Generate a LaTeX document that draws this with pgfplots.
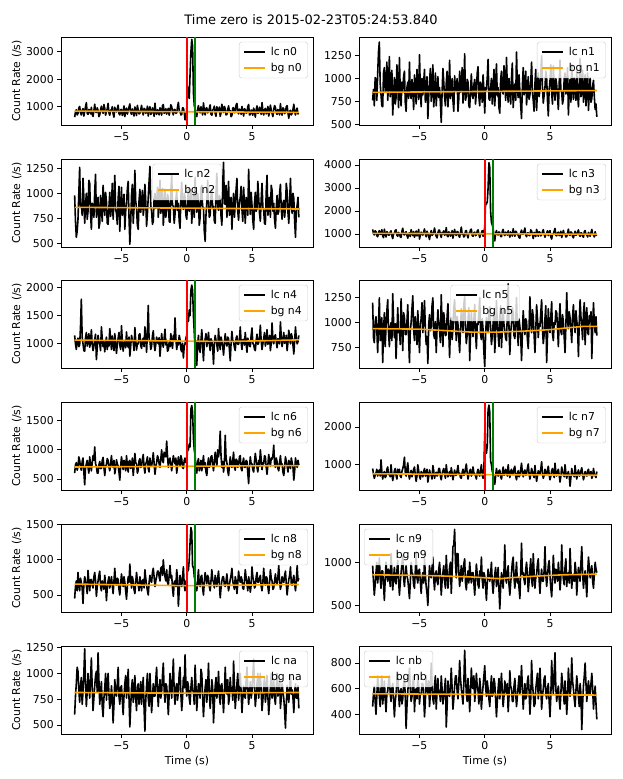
\documentclass[border=0pt]{standalone}
\usepackage{fontspec}
\setmainfont{DejaVu Sans}
\usepackage{pgfplots}
\pgfplotsset{compat=1.18}
\definecolor{bgorange}{HTML}{FFA500}
\definecolor{mplgreen}{HTML}{008000}
\definecolor{mplred}{HTML}{FF0000}
\newcommand{\fs}{\fontsize{10.85bp}{13bp}\selectfont}
\pgfplotsset{
  panel/.style={
    scale only axis, width=252bp, height=88bp, anchor=north west,
    xmin=-9.62, xmax=9.66,
    xtick={-5,0,5}, xticklabels={−5,0,5},
    tick align=outside, xtick pos=left, ytick pos=left,
    major tick length=3.8bp,
    every tick/.style={black, line width=0.85bp},
    axis line style={line width=0.85bp},
    ticklabel style={font=\fs},
    label style={font=\fs},
    /pgf/number format/1000 sep={},
    /pgf/number format/assume math mode=true,
    legend style={font=\fs, draw=black!20, rounded corners=2.5bp, fill=white, fill opacity=0.8, text opacity=1, draw opacity=1, inner xsep=4bp, inner ysep=3bp, row sep=2.5bp, legend cell align=left, /tikz/every odd column/.append style={column sep=3bp}},
    legend image code/.code={\draw[##1, line width=1.6bp] (0bp,0bp) -- (21bp,0bp);},
  },
  lur/.style={legend style={at={(0.98,0.945)}, anchor=north east}},
  luc/.style={legend style={at={(0.5,0.945)}, anchor=north}},
  lul/.style={legend style={at={(0.02,0.945)}, anchor=north west}},
  yl/.style={ylabel={Count Rate (/s)}, ylabel style={at={(axis description cs:-0.176,0.5)}, anchor=center}},
  xl/.style={xlabel={Time (s)}, xlabel style={at={(axis description cs:0.5,-0.305)}, anchor=center}},
}
\newcommand{\lc}[1]{\addplot[black, line width=1.6bp, line join=round] table[x expr=\coordindex*0.064-8.576, y index=0, header=false, row sep=\\]{#1};}
\newcommand{\vl}[2]{\addplot[mplred, line width=1.6bp, forget plot] coordinates {(0,#1) (0,#2)};
\addplot[mplgreen, line width=1.6bp, forget plot] coordinates {(0.64,#1) (0.64,#2)};}
\begin{document}
\begin{tikzpicture}
\path[use as bounding box] (0bp,0bp) rectangle (623bp,-779bp);
\node[font=\fontsize{13bp}{15bp}\selectfont] at (311bp,-20bp) {Time zero is 2015-02-23T05:24:53.840};

% n0
\begin{axis}[panel, lur, yl, at={(61bp,-37bp)}, ymin=335, ymax=3535, ytick={1000,2000,3000}]
\lc{620\\810\\890\\700\\760\\950\\1010\\780\\700\\870\\930\\660\\830\\1000\\1150\\760\\720\\900\\880\\740\\
980\\720\\650\\860\\1090\\810\\790\\960\\870\\640\\700\\900\\1020\\830\\760\\1080\\940\\690\\840\\920\\
1120\\770\\690\\880\\860\\1000\\740\\620\\980\\850\\810\\930\\1060\\750\\700\\890\\900\\680\\780\\1030\\
640\\880\\950\\730\\850\\990\\1100\\800\\720\\920\\830\\660\\990\\850\\680\\1050\\880\\740\\760\\900\\
1050\\810\\700\\940\\910\\760\\820\\1020\\660\\880\\1000\\720\\770\\960\\870\\650\\1130\\830\\720\\890\\
840\\700\\960\\880\\690\\1040\\1080\\760\\800\\930\\730\\860\\940\\690\\860\\1070\\1010\\800\\700\\900\\
890\\760\\780\\990\\1160\\840\\830\\700\\720\\960\\950\\800\\520\\640\\900\\1750\\1400\\1300\\2200\\3000\\
3450\\3200\\1500\\1050\\900\\760\\640\\900\\1040\\820\\780\\1000\\880\\700\\1140\\870\\700\\930\\960\\780\\
820\\940\\1070\\730\\690\\880\\910\\1020\\760\\650\\1000\\840\\850\\990\\650\\780\\1090\\900\\790\\1010\\
930\\700\\720\\890\\1030\\820\\860\\640\\680\\950\\970\\780\\800\\1060\\1120\\830\\740\\910\\880\\720\\
1010\\840\\660\\920\\900\\770\\780\\1000\\1080\\700\\710\\880\\860\\690\\950\\820\\620\\900\\1030\\760\\
790\\980\\880\\720\\1150\\850\\700\\890\\940\\740\\820\\1010\\660\\800\\1060\\880\\760\\640\\900\\1040\\
980\\790\\720\\900\\850\\700\\1110\\820\\690\\960\\920\\750\\800\\1000\\1040\\780\\580\\830\\870\\700\\
760\\900\\1090\\810\\700\\880\\950\\740\\760\\}
\addlegendentry{lc n0}
\addplot[bgorange, line width=1.6bp] coordinates {(-8.576,840) (8.576,795)};
\addlegendentry{bg n0}
\vl{335}{3535}
\end{axis}

% n1
\begin{axis}[panel, lur, at={(359bp,-37bp)}, ymin=490, ymax=1455, ytick={500,750,1000,1250}]
\lc{760\\880\\700\\1010\\980\\760\\1050\\1290\\1400\\950\\820\\700\\690\\1060\\1120\\850\\900\\1180\\760\\940\\
1240\\800\\880\\1090\\600\\820\\1010\\720\\790\\1150\\930\\680\\1230\\860\\700\\960\\850\\1020\\1080\\740\\
640\\900\\960\\780\\1180\\830\\780\\990\\870\\660\\1040\\900\\720\\1100\\910\\770\\1260\\880\\690\\1000\\
820\\960\\1100\\740\\880\\1020\\560\\800\\970\\1110\\750\\900\\1150\\690\\830\\1060\\700\\880\\1020\\790\\
900\\730\\520\\840\\1110\\960\\800\\700\\950\\1080\\690\\860\\1200\\780\\860\\1000\\760\\640\\1030\\880\\
870\\1000\\640\\780\\1080\\850\\920\\1120\\730\\890\\1270\\760\\810\\990\\960\\700\\680\\870\\1050\\820\\
780\\930\\990\\720\\860\\1060\\1130\\800\\700\\960\\920\\740\\1040\\870\\620\\900\\880\\1010\\1210\\780\\
760\\890\\1000\\720\\850\\1100\\700\\940\\1160\\810\\900\\680\\620\\990\\1080\\860\\830\\1140\\970\\760\\
1230\\900\\740\\1000\\880\\720\\1010\\1170\\680\\850\\940\\760\\1290\\900\\790\\1040\\860\\700\\560\\920\\
1120\\820\\900\\1080\\710\\880\\1020\\770\\820\\960\\1180\\850\\760\\640\\940\\1100\\650\\870\\1060\\800\\
880\\1030\\1250\\900\\730\\820\\900\\1080\\1010\\760\\590\\880\\970\\1150\\840\\720\\1140\\910\\760\\1000\\
930\\800\\660\\940\\1200\\870\\850\\720\\780\\1000\\1060\\830\\880\\1120\\600\\860\\990\\740\\1150\\900\\
770\\1010\\900\\760\\1080\\840\\690\\930\\1220\\800\\860\\1090\\740\\880\\1040\\700\\920\\1060\\650\\850\\
1010\\740\\780\\920\\980\\800\\660\\720\\580\\}
\addlegendentry{lc n1}
\addplot[bgorange, line width=1.6bp] coordinates {(-8.576,848) (8.576,868)};
\addlegendentry{bg n1}
\end{axis}

% n2
\begin{axis}[panel, luc, yl, at={(61bp,-159bp)}, ymin=463, ymax=1343, ytick={500,750,1000,1250}]
\lc{980\\720\\560\\620\\740\\1000\\1260\\860\\900\\780\\1150\\960\\700\\880\\1000\\740\\820\\1130\\1100\\800\\
640\\900\\880\\760\\1020\\1190\\760\\870\\960\\650\\700\\980\\850\\720\\1080\\930\\780\\1010\\920\\700\\
690\\860\\1010\\770\\870\\1100\\740\\930\\1180\\840\\800\\690\\950\\1070\\620\\880\\1060\\780\\830\\990\\
640\\820\\900\\1040\\1120\\760\\490\\710\\980\\1090\\700\\850\\1230\\920\\850\\680\\640\\930\\1040\\810\\
910\\1030\\780\\860\\1090\\920\\670\\800\\960\\1120\\1270\\880\\820\\690\\720\\940\\1000\\850\\880\\1060\\
760\\920\\1130\\800\\900\\1050\\680\\840\\1040\\760\\830\\990\\950\\720\\710\\1010\\1180\\880\\870\\700\\
790\\940\\1020\\830\\900\\720\\650\\960\\1110\\870\\840\\1000\\960\\780\\740\\900\\1050\\820\\880\\1040\\
700\\870\\990\\760\\1160\\930\\810\\1000\\920\\680\\760\\1050\\1080\\850\\860\\620\\520\\780\\910\\1130\\
900\\760\\780\\970\\1040\\850\\870\\720\\700\\1010\\1200\\860\\830\\980\\950\\770\\680\\1090\\1310\\900\\
890\\1080\\760\\900\\1120\\780\\820\\960\\640\\860\\1000\\760\\900\\1040\\1150\\820\\730\\900\\960\\1070\\
840\\720\\1060\\880\\700\\960\\920\\780\\1240\\940\\790\\1010\\880\\730\\640\\900\\1010\\820\\850\\1120\\
960\\800\\720\\940\\1100\\860\\830\\700\\690\\1010\\1180\\780\\870\\960\\760\\1080\\1030\\820\\900\\740\\
650\\860\\980\\790\\820\\1000\\1090\\840\\740\\900\\930\\760\\860\\1100\\1020\\810\\700\\920\\1150\\880\\
800\\1000\\950\\720\\560\\830\\880\\960\\760\\}
\addlegendentry{lc n2}
\addplot[bgorange, line width=1.6bp] coordinates {(-8.576,860) (8.576,843)};
\addlegendentry{bg n2}
\end{axis}

% n3
\begin{axis}[panel, lur, at={(359bp,-159bp)}, ymin=435, ymax=4260, ytick={1000,2000,3000,4000}]
\lc{1200\\1020\\960\\1140\\1100\\930\\880\\1050\\1150\\980\\1000\\1190\\920\\840\\1210\\1010\\870\\1100\\1060\\950\\
960\\1080\\1140\\920\\800\\1010\\1030\\1160\\1180\\950\\900\\1070\\1000\\880\\850\\1120\\1250\\990\\960\\1050\\
1100\\940\\820\\1010\\1050\\890\\1190\\1040\\930\\1110\\860\\980\\1130\\920\\1000\\1200\\780\\950\\1080\\1000\\
950\\1090\\1220\\980\\880\\1120\\1030\\900\\760\\1000\\1150\\940\\980\\1090\\1260\\1010\\900\\830\\1050\\1170\\
1170\\960\\850\\1070\\1010\\1140\\940\\1020\\1280\\930\\880\\1090\\1060\\910\\990\\1150\\820\\1030\\1200\\980\\
940\\1110\\1090\\920\\860\\1060\\1300\\990\\1000\\870\\910\\1130\\1150\\960\\830\\1040\\1040\\1180\\1210\\930\\
900\\1050\\1080\\930\\960\\1120\\1180\\1000\\850\\990\\1040\\1150\\900\\1060\\1300\\2350\\2300\\2400\\3000\\4100\\
3900\\2000\\1500\\1400\\1250\\900\\700\\1020\\1150\\980\\960\\1090\\1060\\900\\880\\1120\\1200\\1000\\930\\1080\\
1050\\950\\1140\\1010\\860\\1090\\1000\\910\\1230\\1040\\900\\1120\\1080\\970\\960\\850\\820\\1060\\1170\\990\\
1000\\1120\\1260\\960\\880\\1040\\1050\\930\\940\\1180\\1130\\980\\800\\1070\\1010\\890\\1200\\1050\\900\\1100\\
1070\\920\\960\\1100\\1190\\1010\\860\\970\\1030\\1140\\930\\1060\\1150\\880\\780\\990\\1000\\1130\\1240\\950\\
920\\1040\\1080\\930\\970\\1120\\850\\980\\1160\\1000\\1010\\870\\890\\1060\\1210\\960\\940\\1090\\1060\\900\\
830\\1000\\1120\\940\\990\\1080\\1180\\960\\900\\1050\\1040\\910\\860\\1100\\1150\\980\\970\\870\\1070\\1010\\
900\\1050\\1200\\990\\960\\870\\1100\\940\\980\\}
\addlegendentry{lc n3}
\addplot[bgorange, line width=1.6bp] coordinates {(-8.576,1030) (8.576,990)};
\addlegendentry{bg n3}
\vl{435}{4260}
\end{axis}

% n4
\begin{axis}[panel, lur, yl, at={(61bp,-280bp)}, ymin=572, ymax=2130, ytick={1000,1500,2000}]
\lc{1150\\1000\\900\\1060\\1100\\950\\980\\1300\\1790\\1120\\1000\\880\\870\\1100\\1200\\960\\1060\\1180\\940\\1020\\
1250\\1000\\880\\960\\1080\\1170\\720\\930\\1150\\1040\\1000\\880\\1300\\1090\\950\\1040\\860\\1010\\1120\\900\\
1040\\960\\1270\\1080\\900\\1140\\1010\\880\\1180\\1020\\830\\990\\1100\\1200\\980\\900\\1320\\1050\\870\\1010\\
1060\\930\\1210\\1000\\940\\1120\\780\\960\\1150\\1070\\1030\\880\\1290\\1050\\890\\1010\\1000\\1160\\1180\\970\\
920\\1060\\1100\\950\\1300\\1120\\850\\1200\\1680\\1080\\1050\\900\\960\\1140\\1230\\1000\\880\\990\\1120\\1040\\
1000\\1110\\780\\960\\1180\\1020\\940\\1100\\1260\\980\\1060\\870\\890\\1030\\950\\1180\\1000\\920\\1150\\1050\\
1460\\1100\\900\\1020\\980\\1150\\1080\\900\\860\\1010\\750\\960\\1000\\1100\\1150\\1450\\1400\\1600\\1500\\1950\\
2040\\1950\\1500\\1200\\900\\1050\\620\\980\\1150\\900\\850\\1060\\1250\\960\\700\\1020\\1080\\1180\\950\\1060\\
1200\\1000\\880\\1090\\1050\\940\\640\\1010\\1150\\1060\\980\\870\\1270\\1030\\900\\1120\\1050\\960\\800\\1000\\
1180\\1020\\960\\1120\\1090\\900\\700\\1010\\1220\\1060\\1030\\940\\880\\1100\\1140\\990\\990\\1080\\1300\\1030\\
900\\1070\\1080\\980\\1200\\1010\\850\\1100\\1050\\960\\950\\1150\\1280\\1000\\1000\\900\\880\\1060\\1170\\990\\
1020\\1120\\1330\\1050\\900\\1000\\1100\\1200\\960\\1040\\1250\\990\\1060\\1150\\880\\1010\\1370\\1080\\1000\\1130\\
1160\\1040\\930\\1090\\1080\\1000\\1390\\1120\\950\\1060\\1200\\1010\\1040\\1150\\880\\1030\\1240\\1100\\1000\\1180\\
1120\\980\\820\\1060\\1300\\1090\\1000\\1040\\1150\\}
\addlegendentry{lc n4}
\addplot[bgorange, line width=1.6bp] coordinates {(-8.576,1065) (-4,1058) (0,1048) (3,1042) (6,1055) (8.576,1070)};
\addlegendentry{bg n4}
\vl{572}{2130}
\end{axis}

% n5
\begin{axis}[panel, luc, at={(359bp,-280bp)}, ymin=545, ymax=1428, ytick={750,1000,1250}]
\lc{1200\\850\\800\\1010\\1060\\930\\700\\980\\1250\\820\\880\\1050\\600\\900\\1100\\760\\950\\1120\\1230\\900\\
760\\960\\1000\\820\\1290\\1020\\850\\990\\640\\880\\1150\\900\\930\\780\\1240\\970\\720\\1100\\1050\\880\\
880\\1010\\1180\\840\\600\\920\\1000\\1140\\1270\\930\\820\\1060\\960\\780\\1120\\900\\700\\980\\1040\\1200\\
900\\1050\\1220\\940\\780\\860\\590\\980\\1080\\920\\960\\1170\\1250\\880\\840\\1010\\700\\940\\1130\\1000\\
920\\800\\1280\\990\\760\\1100\\1010\\870\\880\\1060\\1190\\920\\650\\960\\1050\\830\\940\\1140\\1230\\1000\\
820\\1060\\980\\840\\700\\930\\1140\\1000\\900\\1180\\1260\\950\\790\\880\\1020\\1150\\620\\870\\1100\\960\\
860\\1020\\1180\\900\\740\\990\\980\\1090\\1250\\880\\830\\1040\\930\\700\\560\\870\\1050\\970\\900\\1110\\
1160\\940\\780\\860\\990\\1100\\700\\890\\1220\\1010\\880\\760\\1040\\1170\\750\\930\\1130\\980\\920\\840\\
820\\1080\\1390\\950\\680\\900\\990\\1150\\1090\\870\\840\\1010\\1250\\930\\770\\1040\\960\\860\\620\\890\\
1120\\970\\880\\1040\\1010\\830\\740\\950\\1260\\1000\\900\\1130\\1060\\880\\700\\920\\1180\\1050\\850\\990\\
960\\1100\\1230\\930\\790\\880\\1040\\1170\\600\\860\\1140\\950\\900\\1060\\1210\\890\\820\\1000\\980\\1120\\
1100\\960\\760\\1030\\1190\\910\\880\\1080\\1010\\850\\700\\970\\1300\\1020\\940\\1110\\1050\\930\\800\\1060\\
1180\\1010\\900\\1120\\1020\\940\\660\\1000\\1230\\1060\\960\\830\\1090\\1200\\780\\1010\\1150\\900\\880\\1070\\
1010\\1110\\640\\950\\1200\\990\\900\\1060\\870\\}
\addlegendentry{lc n5}
\addplot[bgorange, line width=1.6bp] coordinates {(-8.576,940) (-5,935) (-3,920) (-1,905) (1,905) (3,915) (5,930) (6.5,950) (7.5,962) (8.576,963)};
\addlegendentry{bg n5}
\end{axis}

% n6
\begin{axis}[panel, lur, yl, at={(61bp,-402bp)}, ymin=311, ymax=1821, ytick={500,1000,1500}]
\lc{600\\740\\780\\650\\700\\880\\820\\700\\650\\800\\860\\620\\400\\690\\760\\820\\700\\600\\880\\740\\
640\\780\\900\\820\\1050\\760\\720\\600\\600\\740\\800\\680\\680\\820\\870\\700\\560\\720\\750\\850\\
820\\700\\640\\760\\900\\740\\700\\820\\590\\680\\830\\760\\720\\620\\480\\720\\880\\770\\660\\820\\
770\\640\\900\\730\\620\\800\\820\\680\\700\\860\\560\\720\\940\\780\\760\\600\\650\\810\\850\\700\\
720\\840\\920\\700\\600\\760\\800\\880\\680\\620\\860\\740\\720\\810\\950\\770\\580\\700\\780\\900\\
860\\760\\700\\840\\1000\\820\\780\\960\\920\\880\\1150\\900\\700\\820\\860\\760\\640\\780\\900\\820\\
760\\860\\600\\720\\880\\780\\720\\900\\840\\700\\680\\820\\860\\780\\800\\1000\\1000\\1100\\1050\\1700\\
1760\\1650\\1200\\1000\\900\\700\\600\\780\\850\\640\\700\\820\\640\\760\\900\\700\\780\\620\\560\\740\\
860\\700\\740\\880\\900\\760\\640\\800\\960\\820\\720\\1000\\880\\1000\\1320\\900\\700\\800\\620\\760\\
1250\\860\\780\\640\\560\\720\\880\\760\\700\\820\\960\\700\\650\\840\\820\\700\\740\\880\\900\\680\\
640\\780\\860\\700\\700\\820\\800\\600\\420\\720\\880\\760\\760\\660\\620\\800\\940\\820\\700\\620\\
820\\720\\1000\\840\\660\\780\\760\\900\\880\\700\\580\\740\\920\\800\\720\\860\\840\\900\\1080\\760\\
700\\860\\800\\680\\640\\780\\900\\740\\760\\620\\560\\700\\880\\800\\720\\620\\820\\760\\680\\860\\
780\\700\\480\\640\\860\\760\\700\\820\\740\\}
\addlegendentry{lc n6}
\addplot[bgorange, line width=1.6bp] coordinates {(-8.576,706) (8.576,730)};
\addlegendentry{bg n6}
\vl{311}{1821}
\end{axis}

% n7
\begin{axis}[panel, lur, at={(359bp,-402bp)}, ymin=330, ymax=2663, ytick={1000,2000}]
\lc{900\\760\\640\\720\\780\\880\\700\\820\\860\\700\\1130\\820\\620\\760\\820\\660\\700\\880\\940\\740\\
760\\680\\1000\\760\\580\\700\\840\\900\\720\\620\\880\\760\\880\\700\\660\\820\\900\\1000\\1200\\800\\
700\\900\\1050\\760\\620\\740\\850\\680\\760\\880\\940\\720\\560\\700\\1000\\840\\700\\620\\820\\760\\
680\\820\\900\\700\\760\\880\\540\\680\\860\\760\\720\\620\\980\\840\\640\\760\\800\\700\\740\\900\\
900\\700\\600\\760\\840\\900\\760\\640\\1000\\800\\680\\760\\820\\700\\920\\780\\600\\740\\860\\720\\
720\\840\\980\\760\\780\\660\\640\\800\\880\\720\\760\\900\\1020\\780\\620\\740\\840\\880\\700\\760\\
940\\780\\760\\700\\620\\800\\880\\740\\700\\860\\1000\\720\\640\\900\\1850\\1300\\1300\\1500\\2450\\2580\\
2400\\1100\\1000\\820\\760\\620\\480\\700\\900\\760\\700\\840\\860\\680\\620\\780\\940\\720\\760\\880\\
820\\700\\1000\\780\\660\\820\\880\\740\\740\\900\\960\\700\\600\\760\\840\\680\\720\\880\\1040\\780\\
680\\820\\860\\720\\760\\900\\1020\\760\\620\\740\\900\\820\\720\\660\\980\\760\\560\\700\\840\\780\\
760\\880\\1080\\760\\640\\720\\880\\780\\720\\860\\960\\740\\600\\700\\840\\900\\780\\660\\1040\\800\\
700\\820\\880\\720\\540\\700\\940\\820\\760\\680\\1000\\780\\640\\760\\820\\700\\430\\660\\900\\760\\
740\\680\\980\\760\\620\\780\\860\\700\\720\\840\\920\\760\\600\\700\\820\\740\\700\\840\\880\\720\\
760\\820\\640\\700\\900\\760\\700\\660\\820\\}
\addlegendentry{lc n7}
\addplot[bgorange, line width=1.6bp] coordinates {(-8.576,760) (8.576,720)};
\addlegendentry{bg n7}
\vl{330}{2663}
\end{axis}

% n8
\begin{axis}[panel, lur, yl, at={(61bp,-524bp)}, ymin=258, ymax=1510, ytick={500,1000,1500}]
\lc{450\\620\\700\\560\\820\\660\\560\\740\\680\\600\\380\\640\\760\\700\\640\\520\\850\\680\\560\\720\\
720\\640\\600\\760\\820\\700\\480\\620\\700\\780\\840\\620\\560\\700\\660\\580\\780\\660\\420\\600\\
700\\760\\600\\680\\760\\640\\520\\700\\880\\660\\640\\740\\720\\580\\500\\660\\800\\700\\620\\760\\
680\\560\\440\\620\\760\\680\\940\\720\\600\\760\\700\\580\\520\\680\\820\\700\\640\\560\\760\\680\\
560\\700\\720\\600\\860\\740\\640\\560\\500\\680\\780\\700\\680\\820\\880\\760\\620\\700\\760\\840\\
840\\760\\700\\880\\900\\780\\1000\\840\\760\\700\\860\\680\\640\\780\\920\\740\\780\\600\\480\\680\\
700\\620\\860\\740\\340\\560\\780\\680\\620\\760\\900\\640\\560\\700\\700\\850\\850\\1000\\1250\\1460\\
1400\\900\\900\\760\\700\\600\\560\\700\\860\\640\\620\\760\\780\\600\\500\\680\\820\\740\\660\\780\\
740\\620\\560\\700\\860\\720\\680\\600\\780\\700\\620\\740\\840\\660\\460\\600\\700\\760\\760\\640\\
620\\700\\800\\660\\560\\640\\720\\780\\880\\700\\640\\580\\760\\700\\520\\660\\840\\720\\680\\760\\
720\\600\\580\\700\\860\\740\\660\\560\\760\\680\\540\\640\\900\\760\\700\\600\\620\\760\\820\\680\\
680\\740\\780\\620\\560\\680\\880\\700\\640\\760\\740\\620\\520\\660\\860\\740\\700\\580\\600\\700\\
800\\680\\660\\760\\920\\700\\580\\640\\760\\700\\680\\780\\840\\660\\500\\620\\720\\780\\900\\660\\
640\\720\\780\\660\\560\\700\\920\\700\\740\\}
\addlegendentry{lc n8}
\addplot[bgorange, line width=1.6bp] coordinates {(-8.576,655) (0,632) (8.576,650)};
\addlegendentry{bg n8}
\vl{258}{1510}
\end{axis}

% n9
\begin{axis}[panel, lul, at={(359bp,-524bp)}, ymin=425, ymax=1442, ytick={500,1000}]
\lc{960\\780\\620\\740\\880\\1000\\760\\880\\1050\\820\\700\\900\\900\\740\\560\\800\\1000\\860\\780\\920\\
860\\720\\1100\\880\\680\\820\\940\\780\\750\\900\\1020\\800\\620\\760\\880\\980\\1080\\820\\720\\860\\
960\\840\\800\\700\\580\\760\\1000\\880\\860\\740\\700\\900\\1120\\820\\760\\900\\920\\780\\640\\800\\
880\\760\\1040\\860\\720\\640\\500\\780\\960\\840\\820\\940\\1060\\800\\680\\860\\900\\780\\740\\920\\
1000\\840\\620\\780\\880\\960\\780\\700\\1080\\880\\700\\820\\940\\1000\\640\\900\\1180\\1200\\1380\\1000\\
820\\1100\\1100\\880\\720\\840\\960\\780\\860\\980\\1040\\760\\680\\820\\900\\760\\1000\\860\\760\\880\\
880\\760\\620\\800\\980\\860\\740\\700\\900\\820\\1060\\800\\700\\880\\840\\720\\560\\760\\920\\840\\
780\\860\\1000\\760\\640\\780\\860\\940\\720\\800\\940\\680\\460\\700\\880\\820\\700\\900\\1200\\820\\
760\\880\\960\\740\\620\\760\\880\\1000\\1060\\820\\700\\860\\1000\\760\\820\\700\\580\\900\\1220\\860\\
880\\800\\740\\920\\1000\\860\\660\\780\\920\\1040\\800\\720\\1100\\880\\700\\820\\860\\980\\1040\\800\\
640\\820\\920\\780\\780\\900\\1180\\860\\720\\840\\960\\1020\\840\\700\\600\\800\\1080\\880\\760\\920\\
900\\780\\1000\\860\\680\\820\\1200\\920\\800\\740\\940\\1040\\720\\860\\880\\760\\1160\\900\\700\\840\\
860\\780\\1000\\900\\620\\800\\940\\860\\780\\1000\\1180\\880\\700\\820\\900\\760\\600\\880\\1060\\940\\
820\\900\\960\\780\\700\\860\\1000\\920\\880\\}
\addlegendentry{lc n9}
\addplot[bgorange, line width=1.6bp] coordinates {(-8.576,855) (-4,845) (-1,830) (1.2,810) (2,822) (4,840) (6,855) (8.576,862)};
\addlegendentry{bg n9}
\end{axis}

% na
\begin{axis}[panel, lur, yl, xl, at={(61bp,-646bp)}, ymin=412, ymax=1266, ytick={500,750,1000,1250}]
\lc{600\\780\\900\\1060\\1020\\840\\720\\880\\960\\700\\820\\1000\\1240\\900\\680\\820\\1000\\880\\760\\940\\
1150\\860\\640\\760\\880\\980\\1020\\820\\1200\\940\\700\\820\\920\\680\\580\\760\\860\\1000\\740\\880\\
1000\\800\\660\\720\\880\\760\\520\\700\\940\\820\\780\\900\\1060\\780\\700\\860\\880\\740\\600\\780\\
900\\980\\760\\880\\1040\\760\\480\\680\\860\\940\\720\\800\\980\\760\\640\\860\\900\\700\\800\\920\\
700\\840\\960\\660\\440\\740\\880\\1000\\760\\680\\1000\\820\\620\\760\\900\\780\\780\\940\\1060\\820\\
680\\860\\940\\760\\820\\980\\1100\\840\\720\\900\\880\\760\\600\\800\\1000\\880\\760\\940\\1140\\820\\
700\\860\\900\\740\\820\\1000\\1060\\800\\640\\760\\960\\860\\1180\\900\\780\\920\\880\\760\\700\\860\\
960\\840\\820\\700\\1080\\880\\640\\780\\900\\820\\760\\1040\\1000\\780\\580\\740\\860\\940\\720\\860\\
1100\\820\\660\\780\\940\\860\\520\\700\\880\\960\\760\\840\\1020\\780\\700\\880\\900\\760\\620\\800\\
1060\\860\\800\\940\\700\\760\\960\\820\\860\\740\\1120\\880\\660\\780\\900\\1000\\740\\860\\1000\\820\\
620\\760\\880\\780\\760\\940\\1060\\840\\700\\820\\920\\760\\820\\980\\1140\\860\\680\\780\\900\\1000\\
760\\880\\1000\\820\\640\\740\\880\\960\\720\\800\\980\\780\\600\\720\\860\\1000\\760\\820\\940\\760\\
700\\860\\1000\\780\\820\\940\\660\\760\\900\\820\\760\\640\\470\\700\\880\\800\\720\\860\\980\\800\\
840\\760\\620\\820\\900\\760\\760\\880\\660\\}
\addlegendentry{lc na}
\addplot[bgorange, line width=1.6bp] coordinates {(-8.576,815) (0,808) (8.576,815)};
\addlegendentry{bg na}
\end{axis}

% nb
\begin{axis}[panel, lul, xl, at={(359bp,-646bp)}, ymin=246, ymax=933, ytick={400,600,800}]
\lc{460\\560\\620\\500\\400\\540\\700\\620\\540\\460\\600\\700\\480\\560\\660\\520\\420\\560\\580\\660\\
700\\560\\500\\600\\640\\520\\380\\500\\560\\660\\720\\560\\460\\580\\600\\480\\520\\640\\680\\540\\
290\\460\\580\\660\\760\\600\\500\\540\\640\\700\\420\\560\\600\\520\\700\\620\\480\\560\\560\\640\\
640\\540\\380\\500\\700\\600\\560\\660\\460\\560\\800\\620\\520\\480\\620\\700\\440\\580\\680\\560\\
580\\500\\700\\600\\480\\540\\600\\680\\300\\460\\660\\560\\540\\620\\760\\600\\440\\520\\620\\700\\
700\\580\\520\\640\\820\\680\\600\\540\\480\\640\\900\\700\\560\\500\\680\\580\\420\\560\\760\\620\\
600\\700\\500\\580\\720\\620\\580\\480\\680\\600\\440\\540\\620\\700\\780\\620\\540\\660\\600\\520\\
460\\600\\700\\540\\560\\680\\640\\520\\380\\500\\600\\680\\520\\600\\720\\580\\460\\540\\660\\600\\
560\\640\\420\\540\\740\\620\\600\\500\\500\\620\\680\\560\\460\\540\\620\\700\\560\\640\\780\\600\\
440\\560\\640\\520\\540\\660\\700\\580\\400\\520\\820\\640\\560\\460\\480\\600\\660\\720\\520\\600\\
760\\620\\440\\540\\600\\680\\700\\560\\520\\600\\640\\500\\380\\540\\820\\660\\560\\720\\880\\600\\
500\\580\\620\\520\\440\\560\\720\\640\\580\\480\\660\\560\\400\\520\\760\\640\\540\\620\\840\\660\\
600\\520\\460\\580\\700\\620\\540\\460\\640\\560\\280\\480\\620\\700\\800\\640\\500\\600\\660\\560\\
560\\640\\720\\600\\440\\540\\620\\480\\360\\}
\addlegendentry{lc nb}
\addplot[bgorange, line width=1.6bp] coordinates {(-8.576,560) (8.576,550)};
\addlegendentry{bg nb}
\end{axis}
\end{tikzpicture}
\end{document}
